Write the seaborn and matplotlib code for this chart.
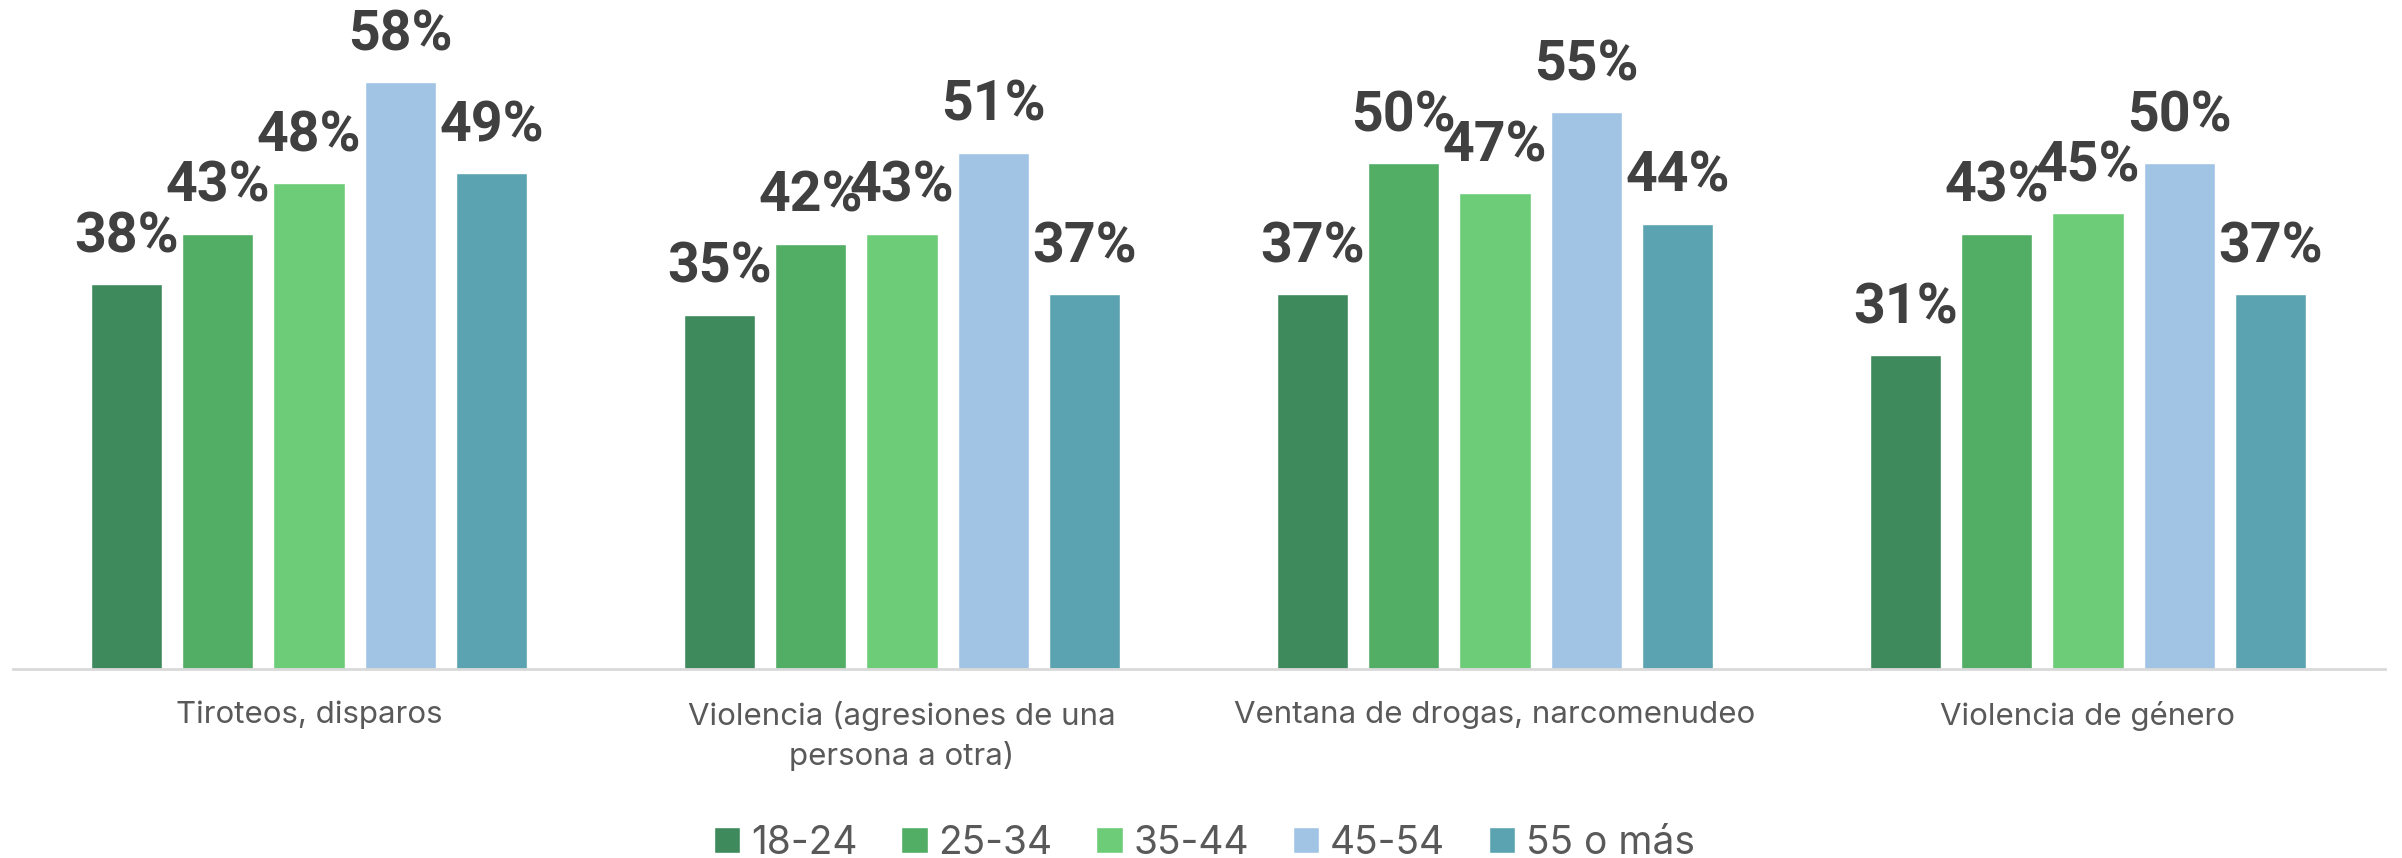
import matplotlib
matplotlib.use("Agg")
import matplotlib.pyplot as plt
import seaborn as sns
import pandas as pd

categories = ["Tiroteos, disparos",
              "Violencia (agresiones de una\npersona a otra)",
              "Ventana de drogas, narcomenudeo",
              "Violencia de género"]
age_groups = ["18-24", "25-34", "35-44", "45-54", "55 o más"]
v_18_24 = [38, 35, 37, 31]
v_25_34 = [43, 42, 50, 43]
v_35_44 = [48, 43, 47, 45]
v_45_54 = [58, 51, 55, 50]
v_55_mas = [49, 37, 44, 37]
colors = ["#3E8A5D", "#52AE65", "#6DCC77", "#A2C4E4", "#5BA3B0"]

series = [v_18_24, v_25_34, v_35_44, v_45_54, v_55_mas]
rows = []
for g, vals in zip(age_groups, series):
    for c, v in zip(categories, vals):
        rows.append({"cat": c, "age": g, "val": v})
df = pd.DataFrame(rows)

sns.set_theme(style="white")
plt.rcParams["font.family"] = ["Inter", "DejaVu Sans"]

fig = plt.figure(figsize=(24.02, 8.58), dpi=100)
ax = fig.add_axes([12.5 / 2402, (858 - 669) / 858, (2384.5 - 12.5) / 2402, 658 / 858])

sns.barplot(data=df, x="cat", y="val", hue="age", order=categories,
            hue_order=age_groups, palette=colors, width=0.77, gap=0.22,
            saturation=1, ax=ax, legend=True)

ax.set_ylim(0, 65)
ax.set_xlim(-0.5, len(categories) - 0.5)
ax.set_xlabel("")
ax.set_ylabel("")
ax.set_yticks([])
for s in ["top", "right", "left"]:
    ax.spines[s].set_visible(False)
ax.spines["bottom"].set_color("#D9D9D9")
ax.spines["bottom"].set_linewidth(2)
ax.tick_params(axis="x", length=0, pad=23, labelsize=22.5, labelcolor="#595959")
for t in ax.get_xticklabels():
    t.set_linespacing(1.4)

for cont in ax.containers:
    vals = cont.datavalues
    ax.bar_label(cont, labels=[f"{v:.0f}%" for v in vals], padding=15,
                 fontsize=40, fontweight="bold", color="#404040",
                 family=["Roboto", "DejaVu Sans"])

leg = ax.legend(loc="center", bbox_to_anchor=(0.5 + 6 / 2372, (858 - 843 - 189) / 658),
                ncol=5, frameon=False, fontsize=28, handlelength=0.67, handleheight=0.67,
                handletextpad=0.28, columnspacing=1.13, labelcolor="#595959",
                borderaxespad=0)

fig.savefig("out.png", dpi=100, facecolor="white")
